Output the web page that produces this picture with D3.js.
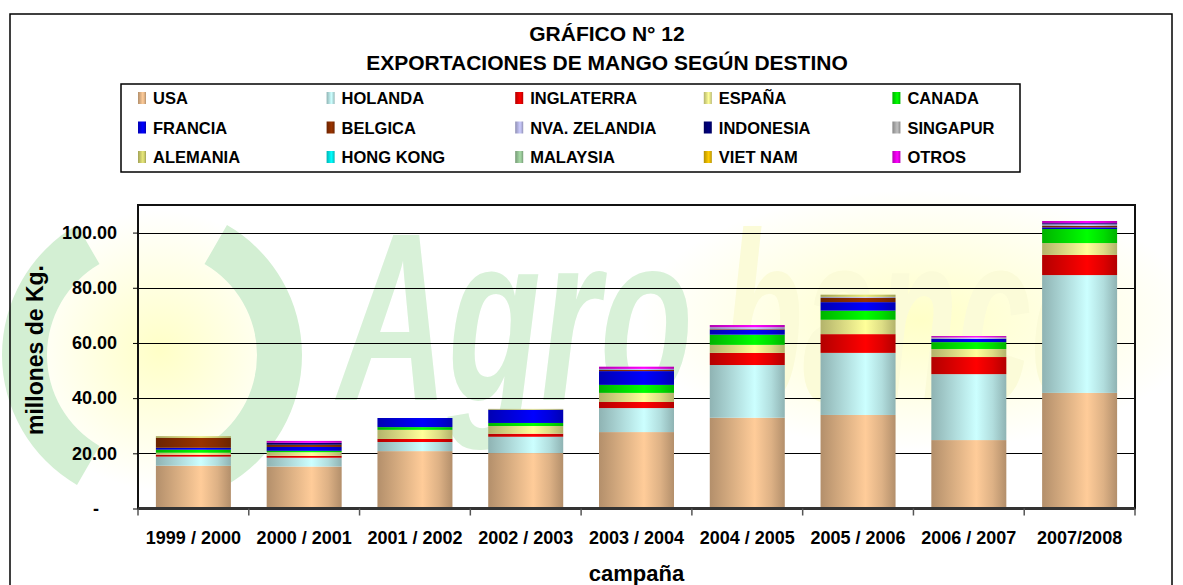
<!DOCTYPE html>
<html lang="es">
<head>
    <meta charset="UTF-8">
    <title>Exportaciones de mango según destino</title>
    <style>
        body {
            margin: 0;
            background-color: #ffffff;
        }

        svg {
            display: block;
            font-family: "Liberation Sans", Arial, sans-serif;
            font-weight: bold;
        }
    </style>
</head>
<body>
    <div id="container"></div>

    <script src="https://cdn.jsdelivr.net/npm/d3@7"></script>
    <script>
        // Campaigns on the x axis
        const categories = ["1999 / 2000", "2000 / 2001", "2001 / 2002", "2002 / 2003", "2003 / 2004",
            "2004 / 2005", "2005 / 2006", "2006 / 2007", "2007/2008"];

        const seriesNames = ["USA", "HOLANDA", "INGLATERRA", "ESPAÑA", "CANADA",
            "FRANCIA", "BELGICA", "NVA. ZELANDIA", "INDONESIA", "SINGAPUR",
            "ALEMANIA", "HONG KONG", "MALAYSIA", "VIET NAM", "OTROS"];

        const seriesColors = ["#ffcc99", "#ccffff", "#ff0000", "#ffff99", "#00ff00",
            "#0000ff", "#993300", "#ccccff", "#000080", "#c0c0c0",
            "#e8e87a", "#00ffff", "#a8dca8", "#ffcc00", "#ff00ff"];

        // millones de Kg. per destination, one value per campaign
        const usa        = [15.5, 15.2, 20.8, 20.1, 27.7, 32.9, 33.9, 24.8, 41.9];
        const holanda    = [3.3, 3.2, 3.3, 5.9, 8.7, 19.1, 22.5, 23.9, 42.7];
        const inglaterra = [0.7, 0.7, 1.1, 1.1, 2.2, 4.4, 6.8, 6.2, 7.3];
        const espana     = [0.7, 1.3, 3.3, 2.8, 3.3, 2.9, 5.2, 2.9, 4.3];
        const canada     = [1.1, 0.5, 1.0, 1.1, 2.9, 3.7, 3.3, 2.5, 5.1];
        const francia    = [0.7, 1.4, 3.3, 4.8, 5.0, 1.8, 3.1, 1.2, 0.6];
        const belgica    = [3.6, 0.8, 0, 0, 0.4, 0.2, 1.5, 0, 0.5];
        const nvaZelanda = [0, 0, 0, 0, 0.4, 0.7, 0.4, 0.5, 0.6];
        const indonesia  = [0, 0.7, 0, 0, 0, 0, 0, 0, 0.4];
        const singapur   = [0, 0, 0, 0, 0, 0, 0, 0, 0];
        const alemania   = [0.6, 0, 0, 0.3, 0, 0, 0.8, 0, 0];
        const hongKong   = [0, 0, 0, 0, 0, 0, 0, 0, 0];
        const malaysia   = [0, 0, 0, 0, 0, 0, 0, 0, 0];
        const vietNam    = [0, 0, 0, 0, 0, 0, 0, 0, 0];
        const otros      = [0, 0.7, 0, 0, 0.8, 0.8, 0, 0.5, 0.8];

        const seriesValues = [usa, holanda, inglaterra, espana, canada, francia, belgica,
            nvaZelanda, indonesia, singapur, alemania, hongKong, malaysia, vietNam, otros];

        const yTickValues = [0, 20, 40, 60, 80, 100];
        const yTickLabels = ["-", "20.00", "40.00", "60.00", "80.00", "100.00"];

        const width = 1183;
        const height = 585;
        const plot = { left: 138, top: 205, right: 1135, bottom: 508.5 };

        // table for d3.stack
        const table = categories.map((c, i) => {
            const row = { campana: c };
            seriesNames.forEach((s, j) => { row[s] = seriesValues[j][i]; });
            return row;
        });

        const svg = d3.select("#container")
            .append("svg")
            .attr("width", width)
            .attr("height", height);

        const defs = svg.append("defs");

        // cylinder-like shading for every series
        seriesColors.forEach((col, i) => {
            const base = d3.color(col);
            const grad = defs.append("linearGradient")
                .attr("id", "grad" + i)
                .attr("x1", 0).attr("x2", 1).attr("y1", 0).attr("y2", 0);
            [[0, 1.0], [0.3, 0.45], [0.6, 0], [0.82, 0.4], [1, 1.0]].forEach(([o, k]) => {
                grad.append("stop")
                    .attr("offset", o)
                    .attr("stop-color", base.darker(k).formatHex());
            });
        });

        const glow = defs.append("radialGradient").attr("id", "glow");
        glow.append("stop").attr("offset", 0).attr("stop-color", "#ffff99").attr("stop-opacity", 0.55);
        glow.append("stop").attr("offset", 1).attr("stop-color", "#ffff99").attr("stop-opacity", 0);

        // watermark (logo behind the chart)
        const wm = svg.append("g");
        wm.append("circle").attr("cx", 160).attr("cy", 350).attr("r", 140).attr("fill", "url(#glow)");
        wm.append("ellipse").attr("cx", 920).attr("cy", 320).attr("rx", 280).attr("ry", 130).attr("fill", "url(#glow)");

        const ring = d3.arc().innerRadius(105).outerRadius(150);
        [[-Math.PI * 5 / 6, -Math.PI / 6], [Math.PI / 6, Math.PI * 5 / 6]].forEach(([a0, a1]) => {
            wm.append("path")
                .attr("transform", "translate(152,355)")
                .attr("d", ring({ startAngle: a0, endAngle: a1 }))
                .attr("fill", "#d3efd3");
        });

        // squeeze the logo words horizontally to the width they take in the logo
        function logoWord(word, x0, targetWidth, fill) {
            const t = wm.append("text")
                .attr("font-size", 240)
                .attr("font-style", "italic")
                .attr("fill", fill)
                .text(word);
            const natural = t.node().getComputedTextLength();
            t.attr("transform", `translate(${x0},400) scale(${targetWidth / natural},1)`);
        }
        logoWord("Agro", 338, 355, "#d8f1d8");
        logoWord("banco", 722, 390, "#fbfbd8");

        // outer frame
        svg.append("rect")
            .attr("x", 10).attr("y", 14)
            .attr("width", 1162).attr("height", 590)
            .attr("fill", "none")
            .attr("stroke", "#000")
            .attr("stroke-width", 1.5);

        // titles
        svg.append("text")
            .attr("x", 607).attr("y", 41)
            .attr("text-anchor", "middle")
            .attr("font-size", 21)
            .text("GRÁFICO N° 12");

        svg.append("text")
            .attr("x", 607).attr("y", 70)
            .attr("text-anchor", "middle")
            .attr("font-size", 21)
            .text("EXPORTACIONES DE MANGO SEGÚN DESTINO");

        // scales
        const x = d3.scaleBand()
            .domain(categories)
            .range([plot.left, plot.right])
            .paddingInner(0.323)
            .paddingOuter(0.1615);

        const y = d3.scaleLinear()
            .domain([0, 110])
            .range([plot.bottom, plot.top]);

        // gridlines
        svg.append("g")
            .selectAll("line")
            .data(yTickValues.filter(v => v > 0))
            .join("line")
            .attr("x1", plot.left)
            .attr("x2", plot.right)
            .attr("y1", d => Math.round(y(d)) + 0.5)
            .attr("y2", d => Math.round(y(d)) + 0.5)
            .attr("stroke", "#000")
            .attr("stroke-width", 1);

        // stacked bars
        const stacked = d3.stack().keys(seriesNames)(table);

        svg.append("g")
            .selectAll("g")
            .data(stacked)
            .join("g")
            .attr("fill", (d, i) => "url(#grad" + i + ")")
            .selectAll("rect")
            .data(d => d.filter(p => p[1] - p[0] > 0))
            .join("rect")
            .attr("x", d => x(d.data.campana))
            .attr("y", d => y(d[1]))
            .attr("width", x.bandwidth())
            .attr("height", d => y(d[0]) - y(d[1]));

        // plot frame
        svg.append("rect")
            .attr("x", plot.left).attr("y", plot.top)
            .attr("width", plot.right - plot.left)
            .attr("height", plot.bottom - plot.top)
            .attr("fill", "none")
            .attr("stroke", "#111")
            .attr("stroke-width", 2);

        svg.append("line")
            .attr("x1", plot.left).attr("x2", plot.right)
            .attr("y1", plot.bottom).attr("y2", plot.bottom)
            .attr("stroke", "#333")
            .attr("stroke-width", 3);

        // y axis
        const yAxis = svg.append("g")
            .attr("transform", `translate(${plot.left},0)`)
            .call(d3.axisLeft(y)
                .tickValues(yTickValues)
                .tickFormat((d, i) => yTickLabels[i])
                .tickSize(5)
                .tickPadding(16));
        yAxis.select(".domain").remove();
        yAxis.selectAll("line").attr("stroke", "#000");
        yAxis.selectAll("text")
            .attr("font-size", 18)
            .attr("font-family", "Liberation Sans, Arial, sans-serif")
            .attr("font-weight", "bold")
            .attr("fill", "#000")
            .attr("dx", d => d === 0 ? -18 : 0);

        // x axis: labels at the centres, ticks at the category borders
        const xAxis = svg.append("g")
            .attr("transform", `translate(0,${plot.bottom})`)
            .call(d3.axisBottom(x).tickSize(0).tickPadding(23));
        xAxis.select(".domain").remove();
        xAxis.selectAll("text")
            .attr("font-size", 18)
            .attr("font-family", "Liberation Sans, Arial, sans-serif")
            .attr("font-weight", "bold")
            .attr("fill", "#000");

        svg.append("g")
            .selectAll("line")
            .data(d3.range(categories.length + 1))
            .join("line")
            .attr("x1", i => x.range()[0] + i * x.step())
            .attr("x2", i => x.range()[0] + i * x.step())
            .attr("y1", plot.bottom)
            .attr("y2", plot.bottom + 7)
            .attr("stroke", "#555")
            .attr("stroke-width", 1.5);

        // axis titles
        svg.append("text")
            .attr("x", (plot.left + plot.right) / 2)
            .attr("y", 581)
            .attr("text-anchor", "middle")
            .attr("font-size", 22)
            .text("campaña");

        svg.append("text")
            .attr("transform", "translate(43,350) rotate(-90)")
            .attr("text-anchor", "middle")
            .attr("font-size", 23)
            .text("millones de Kg.");

        // legend
        svg.append("rect")
            .attr("x", 121).attr("y", 84)
            .attr("width", 899).attr("height", 88)
            .attr("fill", "#fff")
            .attr("stroke", "#000")
            .attr("stroke-width", 1.5);

        const legend = svg.append("g")
            .selectAll("g")
            .data(seriesNames)
            .join("g")
            .attr("transform", (d, i) => `translate(${138 + (i % 5) * 188.6},${98 + Math.floor(i / 5) * 29.5})`);

        legend.append("rect")
            .attr("x", 0).attr("y", -6)
            .attr("width", 8).attr("height", 12)
            .attr("fill", (d, i) => "url(#grad" + i + ")");

        legend.append("text")
            .attr("x", 15).attr("y", 6)
            .attr("font-size", 16.5)
            .text(d => d);
    </script>
</body>
</html>
